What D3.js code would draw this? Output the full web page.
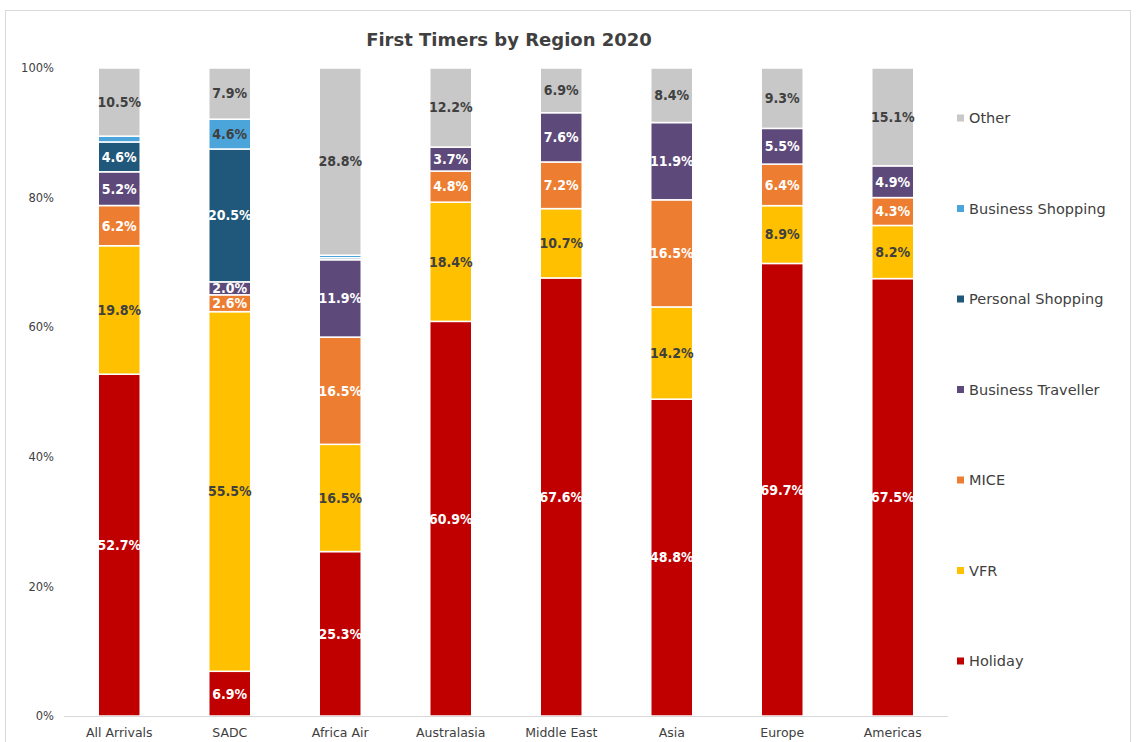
<!DOCTYPE html>
<html><head><meta charset="utf-8">
<script src="https://cdn.jsdelivr.net/npm/d3@7"></script>
<style>body{margin:0;background:#fff}svg{display:block}</style>
</head><body>
<script>
const categories = ["All Arrivals","SADC","Africa Air","Australasia","Middle East","Asia","Europe","Americas"];
const seriesNames = ["Holiday","VFR","MICE","Business Traveller","Personal Shopping","Business Shopping","Other"];
const holiday = [52.7, 6.9, 25.3, 60.9, 67.6, 48.8, 69.7, 67.5];
const vfr = [19.8, 55.5, 16.5, 18.4, 10.7, 14.2, 8.9, 8.2];
const mice = [6.2, 2.6, 16.5, 4.8, 7.2, 16.5, 6.4, 4.3];
const businessTraveller = [5.2, 2.0, 11.9, 3.7, 7.6, 11.9, 5.5, 4.9];
const personalShopping = [4.6, 20.5, 0.3, 0, 0, 0, 0, 0];
const businessShopping = [0.9, 4.6, 0.4, 0, 0, 0, 0, 0];
const other = [10.5, 7.9, 28.8, 12.2, 6.9, 8.4, 9.3, 15.1];
const yTicks = [0, 0.2, 0.4, 0.6, 0.8, 1.0];
const colors = ["#C00000","#FFC000","#ED7D31","#5E4A7A","#1F587A","#4BA5DA","#C8C8C8"];
const labelColors = ["#fff","#404040","#fff","#fff","#fff","#404040","#404040"];

const seriesValues = [holiday, vfr, mice, businessTraveller, personalShopping, businessShopping, other];
const rows = categories.map((c,i)=>{const r={cat:c}; seriesNames.forEach((s,j)=>r[s]=seriesValues[j][i]); return r;});

const W=1136,H=742;
const svg=d3.select("body").append("svg").attr("width",W).attr("height",H);
svg.append("rect").attr("x",5.5).attr("y",10.5).attr("width",1125).attr("height",740).attr("fill","#fff").attr("stroke","#d9d9d9");

const font="'DejaVu Sans', Verdana, sans-serif";
const x=d3.scaleBand().domain(categories).range([64,948]).paddingInner(0.62).paddingOuter(0.31);
const y=d3.scaleLinear().domain([0,1]).range([716,68]);

svg.append("text").attr("x",509).attr("y",46).attr("text-anchor","middle")
  .attr("font-family",font).attr("font-weight","bold").attr("font-size",18).attr("fill","#404040")
  .text("First Timers by Region 2020");

const ya=svg.append("g").attr("transform","translate(54,0)").call(d3.axisLeft(y).tickValues(yTicks).tickFormat(d3.format(".0%")).tickSize(0).tickPadding(0));
ya.select(".domain").remove();
ya.selectAll("text").attr("font-family",font).attr("font-size",11.5).attr("fill","#404040");

const stack=d3.stack().keys(seriesNames).offset(d3.stackOffsetExpand);
const stacked=stack(rows);

const g=svg.append("g");
stacked.forEach((layer,j)=>{
  g.append("g").selectAll("rect").data(layer.filter(d=>d[1]-d[0]>0)).join("rect")
    .attr("x",d=>x(d.data.cat)).attr("width",x.bandwidth())
    .attr("y",d=>y(d[1])).attr("height",d=>y(d[0])-y(d[1]))
    .attr("fill",colors[j]).attr("stroke","#fff").attr("stroke-width",1.5);
});
stacked.forEach((layer,j)=>{
  g.append("g").selectAll("text").data(layer.filter(d=>d.data[seriesNames[j]]>=2)).join("text")
    .attr("x",d=>x(d.data.cat)+x.bandwidth()/2).attr("y",d=>(y(d[0])+y(d[1]))/2)
    .attr("dy","0.35em").attr("text-anchor","middle")
    .attr("font-family","'DejaVu Sans Condensed', 'DejaVu Sans', sans-serif").attr("font-weight","bold").attr("font-size",14)
    .attr("fill",labelColors[j]).text(d=>d.data[seriesNames[j]].toFixed(1)+"%");
});

const xa=svg.append("g").attr("transform","translate(0,716)").call(d3.axisBottom(x).tickSize(0).tickPadding(12));
xa.select(".domain").attr("stroke","#d9d9d9").attr("d","M64,0.5H948");
xa.selectAll("text").attr("font-family",font).attr("font-size",12.5).attr("fill","#404040");

const legendOrder=seriesNames.slice().reverse();
const ly=d3.scalePoint().domain(legendOrder).range([118,661]);
const leg=svg.append("g");
legendOrder.forEach(s=>{
  const j=seriesNames.indexOf(s);
  leg.append("rect").attr("x",957).attr("y",ly(s)-3.5).attr("width",7).attr("height",7).attr("fill",colors[j]);
  leg.append("text").attr("x",969).attr("y",ly(s)).attr("dy","0.35em").attr("font-family",font).attr("font-size",14.5).attr("fill","#404040").text(s);
});
</script>
</body></html>
